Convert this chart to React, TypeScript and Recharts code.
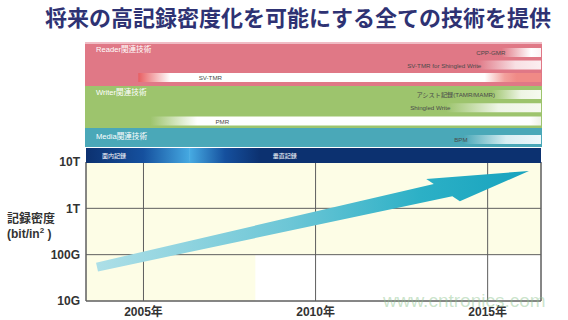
import React from 'react';
import {
  ComposedChart,
  BarChart,
  Bar,
  Cell,
  Line,
  XAxis,
  YAxis,
  CartesianGrid,
  ReferenceArea,
  ReferenceLine,
  LabelList,
} from 'recharts';

// year axis shared by the technology bands and the density plot
const X_MIN = 2003.33;
const X_MAX = 2016.55;

const years = [2005, 2010, 2015];
const densityTicks = [1e10, 1e11, 1e12, 1e13];
const densityLabels = ['10G', '100G', '1T', '10T'];

// trend arrow (tail -> tip)
const arrowYears = [2003.65, 2016.2];
const arrowDensity = [5.4e10, 6.4e12];

const readerTech = ['CPP-GMR', 'SV-TMR for Shingled Write', 'SV-TMR'];
const readerStart = [2015.4, 2014.7, 2004.85];
const writerTech = ['アシスト記録(TAMR/MAMR)', 'Shingled Write', 'PMR'];
const writerStart = [2015.1, 2013.8, 2005.2];
const mediaTech = ['BPM'];
const mediaStart = [2014.3];
const recordingModes = ['面内記録', '垂直記録'];
const modeStart = [X_MIN, 2006.35];

const W = 568;
const PLOT_L = 86;
const PLOT_R = 541;
const FONT = '"Liberation Sans", Arial, "Noto Sans CJK JP", sans-serif';
const CJK = '"Noto Sans CJK JP", "Liberation Sans", sans-serif';

type Stop = [number, string];

const READER_PINK = '#e07886';
const WRITER_GREEN = '#9dc46d';
const MEDIA_TEAL = '#4aa8b8';
const NAVY = '#0c3170';

const readerStops: Stop[][] = [
  [[0, READER_PINK], [0.75, '#ffffff'], [1, '#fdf3f5']],
  [[0, READER_PINK], [0.6, '#f8e0e4'], [1, '#fbeef0']],
  [[0, '#e85e62'], [0.08, '#ffffff'], [0.86, '#ffffff'], [0.91, '#f3a09c'], [0.94, '#f08a86'], [1, '#f08a86']],
];
const writerStops: Stop[][] = [
  [[0, WRITER_GREEN], [0.6, '#eef5e4'], [1, '#f6faef']],
  [[0, WRITER_GREEN], [0.55, '#eef5e6'], [1, '#f6f9f0']],
  [[0, WRITER_GREEN], [0.12, '#ffffff'], [0.97, '#ffffff'], [1, '#eef2e8']],
];
const mediaStops: Stop[][] = [[[0, MEDIA_TEAL], [0.55, '#d8eef2'], [1, '#eef8fa']]];
const modeStops: Stop[][] = [
  [[0, NAVY], [0.55, '#15509e'], [1, '#46aae2']],
  [[0, '#46aae2'], [0.1, '#15509e'], [0.2, NAVY], [1, NAVY]],
];

function Gradient({ id, stops }: { id: string; stops: Stop[] }) {
  return (
    <linearGradient id={id} x1="0" y1="0" x2="1" y2="0">
      {stops.map(([o, c], i) => (
        <stop key={i} offset={o} stopColor={c} />
      ))}
    </linearGradient>
  );
}

const techLabel = (props: any) => {
  const { x, y, width, height, value } = props;
  const inside = width > 200;
  return (
    <text
      x={inside ? x + 72 : x + 4}
      y={y + height / 2}
      textAnchor={inside ? 'middle' : 'end'}
      dominantBaseline="central"
      fontSize={6.2}
      fontFamily={FONT}
      fill="#4a4a4a"
    >
      {value}
    </text>
  );
};

interface BandLayout {
  bgTop: number;
  bgH: number;
  bg: string;
  top: number;
  rowH: number;
  titleY: number;
}

function TechBand({ id, title, names, starts, stops, layout }: {
  id: string;
  title: string;
  names: string[];
  starts: number[];
  stops: Stop[][];
  layout: BandLayout;
}) {
  const data = names.map((name, i) => ({ name, span: [starts[i], X_MAX] }));
  return (
    <>
      <div
        style={{
          position: 'absolute',
          left: PLOT_L - 1,
          width: PLOT_R - PLOT_L + 2,
          top: layout.bgTop,
          height: layout.bgH,
          background: layout.bg,
        }}
      />
      <div style={{ position: 'absolute', left: 0, top: layout.top }}>
        <BarChart
          width={W}
          height={layout.rowH * names.length}
          data={data}
          layout="vertical"
          margin={{ top: 0, right: W - PLOT_R, bottom: 0, left: PLOT_L }}
        >
          <defs>
            {stops.map((s, i) => (
              <Gradient key={i} id={`${id}-${i}`} stops={s} />
            ))}
          </defs>
          <XAxis type="number" domain={[X_MIN, X_MAX]} hide allowDataOverflow />
          <YAxis type="category" dataKey="name" hide />
          <Bar dataKey="span" barSize={9} isAnimationActive={false}>
            {data.map((d, i) => (
              <Cell key={d.name} fill={`url(#${id}-${i})`} />
            ))}
            <LabelList dataKey="name" content={techLabel} />
          </Bar>
        </BarChart>
      </div>
      <div
        style={{
          position: 'absolute',
          left: 96,
          top: layout.titleY - 5,
          fontSize: 7.6,
          lineHeight: '10px',
          color: '#ffffff',
          fontFamily: FONT,
          whiteSpace: 'nowrap',
        }}
      >
        {title}
      </div>
    </>
  );
}

const modeLabel = (props: any) => {
  const { x, y, width, height, value } = props;
  return (
    <text
      x={x + width * 0.27}
      y={y + height / 2}
      textAnchor="middle"
      dominantBaseline="central"
      fontSize={6}
      fontFamily={CJK}
      fill="#ffffff"
    >
      {value}
    </text>
  );
};

function RecordingBar() {
  const data = [
    {
      name: 'mode',
      inPlane: [modeStart[0], modeStart[1]],
      perp: [modeStart[1], X_MAX],
      inPlaneName: recordingModes[0],
      perpName: recordingModes[1],
    },
  ];
  return (
    <div style={{ position: 'absolute', left: 0, top: 145.5 }}>
      <BarChart
        width={W}
        height={18}
        data={data}
        layout="vertical"
        barGap={-15}
        margin={{ top: 0, right: W - PLOT_R, bottom: 0, left: PLOT_L }}
      >
        <defs>
          {modeStops.map((s, i) => (
            <Gradient key={i} id={`mode-${i}`} stops={s} />
          ))}
        </defs>
        <XAxis type="number" domain={[X_MIN, X_MAX]} hide allowDataOverflow />
        <YAxis type="category" dataKey="name" hide />
        <Bar dataKey="inPlane" barSize={15} fill="url(#mode-0)" isAnimationActive={false}>
          <LabelList dataKey="inPlaneName" content={modeLabel} />
        </Bar>
        <Bar dataKey="perp" barSize={15} fill="url(#mode-1)" isAnimationActive={false}>
          <LabelList dataKey="perpName" content={modeLabel} />
        </Bar>
      </BarChart>
    </div>
  );
}

let tailPoint: { x: number; y: number } | null = null;

const ArrowDot = (props: any) => {
  const { cx, cy, index, points } = props;
  if (index === 0) {
    tailPoint = { x: cx, y: cy };
    return <g key="arrow-tail" />;
  }
  const t = points && points.length ? { x: points[0].x, y: points[0].y } : tailPoint;
  if (!t) return <g key="arrow-none" />;
  const dx = cx - t.x;
  const dy = cy - t.y;
  const len = Math.hypot(dx, dy);
  const ux = dx / len;
  const uy = dy / len;
  const nx = -uy;
  const ny = ux;
  const hl = 88;
  const hw = 14.5;
  const skew = 14;
  const wt = 4.5;
  const wb = 8;
  const bx = cx - ux * hl;
  const by = cy - uy * hl;
  const js = (skew * wb) / hw;
  const pts = [
    [t.x - nx * wt, t.y - ny * wt],
    [bx - nx * wb - ux * js, by - ny * wb - uy * js],
    [bx - nx * hw - ux * skew, by - ny * hw - uy * skew],
    [cx, cy],
    [bx + nx * hw + ux * skew, by + ny * hw + uy * skew],
    [bx + nx * wb + ux * js, by + ny * wb + uy * js],
    [t.x + nx * wt, t.y + ny * wt],
  ];
  return (
    <polygon
      key="arrow-head"
      points={pts.map((p) => p.join(',')).join(' ')}
      fill="url(#arrowFill)"
    />
  );
};

export default function App() {
  const arrowData = arrowYears.map((year, i) => ({ year, density: arrowDensity[i] }));
  const tickStyle = { fill: '#333333', fontSize: 12, fontWeight: 700, fontFamily: FONT };

  return (
    <div
      style={{
        position: 'absolute',
        left: 0,
        top: 0,
        width: W,
        height: 320,
        background: '#ffffff',
        overflow: 'hidden',
      }}
    >
      <div
        style={{
          position: 'absolute',
          left: 0,
          width: 596,
          top: 1,
          textAlign: 'center',
          fontSize: 22,
          lineHeight: '30px',
          fontWeight: 700,
          color: '#2e3273',
          fontFamily: CJK,
          whiteSpace: 'nowrap',
        }}
      >
        将来の高記録密度化を可能にする全ての技術を提供
      </div>

      <div style={{ position: 'absolute', left: 0, top: 0 }}>
        <ComposedChart
          width={W}
          height={320}
          data={arrowData}
          margin={{ top: 162, right: W - PLOT_R, bottom: 0, left: PLOT_L - 40 }}
        >
          <defs>
            <linearGradient id="arrowFill" x1="0" y1="0" x2="1" y2="0">
              <stop offset={0} stopColor="#addfe7" />
              <stop offset={0.45} stopColor="#6cc6d6" />
              <stop offset={0.75} stopColor="#2cb0c6" />
              <stop offset={1} stopColor="#17a3be" />
            </linearGradient>
          </defs>
          <ReferenceArea
            x1={X_MIN}
            x2={X_MAX}
            y1={1e10}
            y2={1e13}
            fill="#fdfde6"
            fillOpacity={1}
            stroke="none"
            zIndex={-300}
          />
          <ReferenceArea
            x1={2008.25}
            x2={X_MAX}
            y1={1e10}
            y2={1e11}
            fill="#ffffff"
            fillOpacity={1}
            stroke="none"
            zIndex={-250}
          />
          <CartesianGrid stroke="#5e5e5e" strokeWidth={1} />
          <XAxis
            type="number"
            dataKey="year"
            domain={[X_MIN, X_MAX]}
            ticks={years}
            allowDataOverflow
            tickFormatter={(v: number) => `${v}年`}
            tick={tickStyle}
            tickLine={false}
            tickSize={4}
            tickMargin={2}
            axisLine={{ stroke: '#5e5e5e' }}
            height={19}
          />
          <YAxis
            type="number"
            scale="log"
            domain={[1e10, 1e13]}
            ticks={densityTicks}
            allowDataOverflow
            tickFormatter={(v: number) => densityLabels[densityTicks.indexOf(v)]}
            tick={tickStyle}
            tickLine={false}
            tickSize={4}
            tickMargin={2}
            axisLine={{ stroke: '#5e5e5e' }}
            width={40}
          />
          <ReferenceLine x={X_MAX} stroke="#5e5e5e" />
          <Line
            dataKey="density"
            stroke="none"
            dot={ArrowDot}
            activeDot={false}
            isAnimationActive={false}
          />
        </ComposedChart>
      </div>

      <div
        style={{
          position: 'absolute',
          left: PLOT_L - 1,
          width: PLOT_R - PLOT_L + 2,
          top: 42,
          height: 2,
          background: '#f0bcc5',
        }}
      />
      <TechBand
        id="reader"
        title="Reader関連技術"
        names={readerTech}
        starts={readerStart}
        stops={readerStops}
        layout={{ bgTop: 44, bgH: 42, bg: READER_PINK, top: 46, rowH: 12.5, titleY: 49.5 }}
      />
      <TechBand
        id="writer"
        title="Writer関連技術"
        names={writerTech}
        starts={writerStart}
        stops={writerStops}
        layout={{ bgTop: 86, bgH: 42, bg: WRITER_GREEN, top: 87.5, rowH: 13.25, titleY: 93 }}
      />
      <TechBand
        id="media"
        title="Media関連技術"
        names={mediaTech}
        starts={mediaStart}
        stops={mediaStops}
        layout={{ bgTop: 128, bgH: 19, bg: MEDIA_TEAL, top: 133.5, rowH: 11, titleY: 137 }}
      />
      <RecordingBar />

      <div
        style={{
          position: 'absolute',
          left: 7,
          top: 212,
          fontSize: 12,
          lineHeight: '15px',
          fontWeight: 700,
          color: '#333333',
          fontFamily: FONT,
          whiteSpace: 'nowrap',
        }}
      >
        <div>記録密度</div>
        <div>
          (bit/in<sup style={{ fontSize: 8, lineHeight: 0 }}>2</sup> )
        </div>
      </div>

      <div
        style={{
          position: 'absolute',
          left: 383,
          top: 290,
          fontSize: 19,
          lineHeight: '22px',
          color: 'rgba(140, 195, 140, 0.45)',
          fontFamily: '"Liberation Sans", Arial, sans-serif',
          whiteSpace: 'nowrap',
        }}
      >
        www.cntronics.com
      </div>
    </div>
  );
}
